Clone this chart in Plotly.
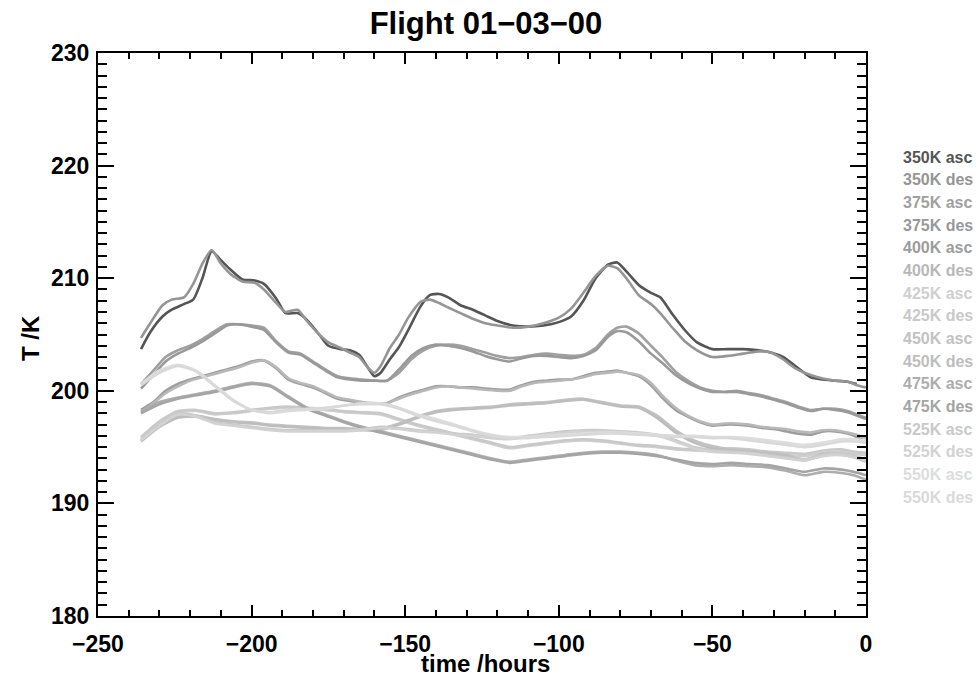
import plotly.graph_objects as go

# ---------------- data ----------------
t_350 = [-236, -233, -229, -226, -222, -219, -216, -213, -210, -207, -203, -199, -196, -192, -189,
         -185, -182, -178, -175, -171, -168, -165, -162, -160, -158, -155, -152, -149, -145, -142,
         -139, -136, -132, -128, -124, -120, -115, -110, -105, -100, -96, -92, -88, -84, -81,
         -78, -74, -70, -67, -63, -59, -55, -50, -45, -40, -35, -31, -27, -23, -18,
         -14, -10, -6, -3, 0]
T_350_asc = [203.7, 205.2, 206.6, 207.2, 207.7, 208.1, 210.0, 212.4, 211.6, 210.8, 209.9, 209.8, 209.5, 208.2, 206.9,
             206.9, 206.3, 205.0, 204.0, 203.7, 203.6, 203.2, 202.0, 201.3, 201.6, 202.8, 203.9, 205.4, 207.5, 208.5,
             208.6, 208.3, 207.6, 207.2, 206.7, 206.2, 205.8, 205.7, 205.8, 206.1, 206.6, 208.0, 210.0, 211.2, 211.4,
             210.6, 209.4, 208.7, 208.3, 206.8, 205.4, 204.3, 203.7, 203.7, 203.7, 203.6, 203.4, 203.0, 202.2, 201.2,
             201.0, 200.9, 200.8, 200.6, None]
T_350_des = [204.7, 206.0, 207.6, 208.1, 208.3, 209.5, 211.3, 212.5, 211.3, 210.4, 209.7, 209.6, 209.0, 207.8, 207.0,
             207.2, 206.2, 205.0, 204.3, 203.8, 203.4, 203.0, 202.0, 201.6, 202.2, 203.8, 205.0, 206.5, 207.9, 208.1,
             207.8, 207.4, 206.9, 206.4, 206.0, 205.8, 205.6, 205.7, 206.0, 206.5, 207.3, 208.7, 210.2, 211.1, 210.9,
             210.0, 208.5, 207.7, 206.9, 205.6, 204.4, 203.6, 203.0, 203.1, 203.3, 203.5, 203.4, 202.8, 202.0, 201.4,
             201.1, 200.9, 200.8, 200.5, 200.3]

t_mid = [-236, -232, -228, -224, -220, -216, -212, -208, -204, -200, -196, -192, -188, -184, -180,
         -176, -172, -168, -164, -160, -156, -152, -148, -144, -140, -136, -132, -128, -124, -120,
         -116, -112, -108, -104, -100, -96, -92, -88, -84, -81, -78, -74, -70, -66, -62,
         -58, -54, -50, -46, -42, -38, -34, -30, -26, -22, -18, -14, -10, -6, -3, 0]
T_375_asc = [200.6, 201.8, 203.0, 203.6, 204.0, 204.6, 205.3, 205.9, 205.9, 205.8, 205.6, 204.4, 203.5, 203.3, 202.6,
             201.9, 201.3, 201.1, 201.0, 200.9, 200.9, 201.6, 202.8, 203.6, 204.0, 204.1, 204.0, 203.7, 203.4, 203.1,
             202.9, 203.0, 203.2, 203.3, 203.2, 203.1, 203.2, 203.8, 205.0, 205.6, 205.7, 205.1, 204.0, 202.9, 201.7,
             200.9, 200.3, 200.0, 199.9, 200.0, 199.8, 199.6, 199.3, 199.0, 198.6, 198.3, 198.4, 198.4, 198.2, 197.9, 197.6]
T_375_des = [200.2, 201.4, 202.6, 203.3, 203.8, 204.4, 205.1, 205.8, 205.9, 205.7, 205.4, 204.3, 203.4, 203.2, 202.5,
             201.8, 201.2, 201.0, 200.9, 200.9, 200.9, 201.9, 203.1, 203.8, 204.1, 204.0, 203.8, 203.5, 203.1, 202.8,
             202.6, 202.9, 203.1, 203.1, 203.0, 202.9, 203.1, 203.6, 204.8, 205.3, 205.2, 204.4, 203.3, 202.4, 201.4,
             200.7, 200.2, 199.9, 199.9, 199.9, 199.7, 199.5, 199.2, 198.9, 198.5, 198.2, 198.4, 198.3, 198.1, 197.8, 197.5]
T_400_asc = [198.3, 199.0, 200.0, 200.6, 201.0, 201.3, 201.6, 201.9, 202.2, 202.6, 202.7, 202.0, 201.0, 200.6, 200.3,
             199.8, 199.3, 199.1, 198.9, 198.9, 198.9, 199.4, 199.8, 200.1, 200.4, 200.4, 200.3, 200.3, 200.2, 200.1,
             200.1, 200.5, 200.8, 200.9, 201.0, 201.0, 201.3, 201.6, 201.7, 201.8, 201.6, 201.3, 200.5, 199.3, 198.3,
             197.7, 197.2, 196.9, 197.0, 197.0, 196.9, 196.7, 196.6, 196.4, 196.2, 196.1, 196.4, 196.4, 196.2, 195.9, 195.5]
T_400_des = [198.1, 198.9, 199.8, 200.4, 200.9, 201.2, 201.5, 201.8, 202.1, 202.5, 202.7, 202.1, 201.1, 200.7, 200.4,
             199.9, 199.4, 199.2, 199.0, 198.9, 198.9, 199.3, 199.7, 200.0, 200.3, 200.4, 200.3, 200.2, 200.1, 200.0,
             200.0, 200.4, 200.7, 200.8, 200.9, 201.0, 201.2, 201.5, 201.6, 201.7, 201.6, 201.4, 200.7, 199.5, 198.5,
             197.8, 197.3, 197.0, 197.1, 197.1, 197.0, 196.8, 196.7, 196.6, 196.4, 196.3, 196.5, 196.5, 196.3, 196.1, 195.8]

t_low = [-236, -230, -224, -218, -212, -206, -200, -194, -188, -182, -176, -170, -164, -158, -152,
         -146, -140, -134, -128, -122, -116, -110, -104, -98, -92, -86, -80, -74, -68, -62,
         -56, -50, -44, -38, -32, -26, -20, -14, -8, -4, 0]
T_425_asc = [195.8, 197.2, 198.1, 198.2, 197.9, 198.0, 198.2, 198.4, 198.5, 198.4, 198.3, 198.1, 198.0, 197.9, 197.4,
             196.9, 196.5, 196.1, 195.7, 195.3, 194.9, 195.1, 195.3, 195.5, 195.6, 195.5, 195.3, 195.1, 195.0, 194.8,
             194.7, 194.6, 194.7, 194.6, 194.4, 194.3, 194.2, 194.5, 194.6, 194.4, 194.3]
T_425_des = [195.9, 197.3, 198.2, 198.3, 198.0, 198.1, 198.3, 198.5, 198.6, 198.5, 198.4, 198.2, 198.1, 198.0, 197.5,
             197.0, 196.6, 196.2, 195.8, 195.4, 195.0, 195.2, 195.4, 195.6, 195.7, 195.6, 195.4, 195.2, 195.1, 194.9,
             194.8, 194.8, 194.9, 194.8, 194.6, 194.5, 194.4, 194.7, 194.8, 194.6, 194.5]
T_450_asc = [195.6, 196.9, 197.7, 197.8, 197.5, 197.3, 197.2, 197.0, 196.9, 196.8, 196.7, 196.7, 196.6, 196.6, 197.1,
             197.7, 198.2, 198.4, 198.5, 198.6, 198.8, 198.9, 199.0, 199.2, 199.3, 199.0, 198.7, 198.6, 197.8, 196.5,
             195.6, 195.1, 194.8, 194.7, 194.5, 194.3, 193.9, 194.4, 194.4, 194.2, 193.8]
T_450_des = [195.5, 196.8, 197.6, 197.7, 197.4, 197.2, 197.1, 196.9, 196.8, 196.7, 196.6, 196.6, 196.5, 196.5, 197.0,
             197.6, 198.1, 198.3, 198.4, 198.5, 198.7, 198.8, 198.9, 199.1, 199.2, 198.9, 198.6, 198.5, 197.6, 196.3,
             195.4, 194.9, 194.7, 194.6, 194.4, 194.2, 193.8, 194.3, 194.3, 194.1, 193.7]
T_475_asc = [198.2, 199.0, 199.4, 199.7, 200.0, 200.4, 200.7, 200.5, 199.5, 198.5, 197.9, 197.3, 196.8, 196.4, 196.0,
             195.6, 195.2, 194.8, 194.4, 194.0, 193.7, 193.9, 194.1, 194.3, 194.5, 194.6, 194.6, 194.5, 194.3, 193.8,
             193.4, 193.3, 193.4, 193.3, 193.2, 192.9, 192.5, 192.8, 192.7, 192.5, 192.1]
T_475_des = [198.0, 198.8, 199.3, 199.6, 199.9, 200.3, 200.6, 200.4, 199.4, 198.4, 197.8, 197.2, 196.7, 196.3, 195.9,
             195.5, 195.1, 194.7, 194.3, 193.9, 193.6, 193.8, 194.0, 194.2, 194.4, 194.5, 194.5, 194.4, 194.2, 193.9,
             193.6, 193.5, 193.6, 193.5, 193.4, 193.1, 192.8, 193.1, 193.0, 192.8, 192.5]
T_525_asc = [195.7, 197.0, 198.0, 197.8, 197.2, 197.0, 196.8, 196.6, 196.5, 196.5, 196.5, 196.5, 196.6, 196.8, 196.7,
             196.5, 196.4, 196.2, 196.1, 195.9, 195.8, 196.0, 196.2, 196.4, 196.5, 196.5, 196.4, 196.3, 196.1, 195.6,
             195.0, 194.7, 194.6, 194.5, 194.3, 194.1, 193.9, 194.3, 194.4, 194.2, 193.9]
T_525_des = [195.6, 196.9, 197.9, 197.7, 197.1, 196.9, 196.7, 196.5, 196.4, 196.4, 196.4, 196.4, 196.5, 196.7, 196.6,
             196.4, 196.3, 196.1, 196.0, 195.8, 195.7, 195.9, 196.1, 196.3, 196.4, 196.4, 196.3, 196.2, 196.0, 195.5,
             194.9, 194.6, 194.5, 194.4, 194.2, 194.0, 193.8, 194.2, 194.3, 194.1, 193.8]
T_550_asc = [200.6, 201.8, 202.3, 201.8, 200.5, 199.2, 198.3, 198.0, 198.2, 198.3, 198.4, 198.7, 198.9, 198.9, 198.5,
             197.9, 197.5, 197.0, 196.5, 196.1, 195.9, 195.9, 196.0, 196.1, 196.2, 196.3, 196.3, 196.2, 196.1, 196.0,
             196.0, 195.9, 195.9, 195.8, 195.6, 195.4, 195.2, 195.4, 195.7, 195.7, 195.6]
T_550_des = [200.5, 201.6, 202.2, 201.7, 200.4, 199.1, 198.3, 198.1, 198.3, 198.4, 198.5, 198.7, 198.8, 198.8, 198.4,
             197.8, 197.3, 196.9, 196.4, 196.0, 195.8, 195.8, 195.9, 196.0, 196.1, 196.2, 196.2, 196.1, 196.0, 195.9,
             195.9, 195.8, 195.8, 195.6, 195.4, 195.2, 195.0, 195.2, 195.5, 195.5, 195.4]

series_names = ["350K asc", "350K des", "375K asc", "375K des", "400K asc", "400K des",
                "425K asc", "425K des", "450K asc", "450K des", "475K asc", "475K des",
                "525K asc", "525K des", "550K asc", "550K des"]
series_time = [t_350, t_350, t_mid, t_mid, t_mid, t_mid,
               t_low, t_low, t_low, t_low, t_low, t_low, t_low, t_low, t_low, t_low]
series_vals = [T_350_asc, T_350_des, T_375_asc, T_375_des, T_400_asc, T_400_des,
               T_425_asc, T_425_des, T_450_asc, T_450_des, T_475_asc, T_475_des,
               T_525_asc, T_525_des, T_550_asc, T_550_des]
series_colors = ["#555555", "#959595", "#a0a0a0", "#999999", "#9c9c9c", "#b8b8b8",
                 "#cfcfcf", "#c9c9c9", "#c2c2c2", "#bdbdbd", "#adadad", "#a5a5a5",
                 "#c9c9c9", "#d2d2d2", "#dddddd", "#d9d9d9"]

for tt, vv in zip(series_time, series_vals):
    assert len(tt) == len(vv), (len(tt), len(vv))

FONT = "Liberation Sans, Arial, sans-serif"

# plot-area geometry (pixels) used only to place text in paper coordinates
L, R, T, B = 98, 866, 53, 616
W, H = 976, 677

fig = go.Figure()
for name, tt, vv, col in zip(series_names, series_time, series_vals, series_colors):
    fig.add_trace(go.Scatter(x=tt, y=vv, mode="lines", name=name,
                             line=dict(color=col, width=2.6, shape="spline", smoothing=0.6),
                             showlegend=False))

# legend as coloured text labels on the right
for i, (name, col) in enumerate(zip(series_names, series_colors)):
    py = 157 + i * 22.67
    fig.add_annotation(text="<b>%s</b>" % name, xref="paper", yref="paper",
                       x=(901 - L) / (R - L), y=(B - py) / (B - T), xanchor="left", yanchor="middle",
                       showarrow=False, font=dict(family=FONT, size=16, color=col))

# axis titles
fig.add_annotation(text="<b>time /hours</b>", xref="paper", yref="paper",
                   x=(485 - L) / (R - L), y=(B - 663) / (B - T), xanchor="center", yanchor="middle",
                   showarrow=False, font=dict(family=FONT, size=24, color="black"))
fig.add_annotation(text="<b>T /K</b>", xref="paper", yref="paper", textangle=-90,
                   x=(30 - L) / (R - L), y=(B - 338) / (B - T), xanchor="center", yanchor="middle",
                   showarrow=False, font=dict(family=FONT, size=24, color="black"))

axis_common = dict(showline=True, linecolor="black", linewidth=2, mirror="ticks",
                   ticks="inside", tickcolor="black", tickwidth=2,
                   showgrid=False, zeroline=False, automargin=False,
                   tickfont=dict(family=FONT, size=23, color="black"))

fig.update_xaxes(range=[-250, 0], dtick=50, tick0=0, ticklen=11,
                 minor=dict(dtick=10, ticklen=6, tickwidth=2, tickcolor="black", ticks="inside"),
                 tickprefix="<b>", ticksuffix="</b>", ticklabelstandoff=6,
                 **axis_common)
fig.update_yaxes(range=[180, 230], dtick=10, tick0=0, ticklen=16,
                 minor=dict(dtick=1, ticklen=9, tickwidth=2, tickcolor="black", ticks="inside"),
                 tickprefix="<b>", ticksuffix="</b>", ticklabelstandoff=2,
                 **axis_common)

fig.update_layout(
    width=W, height=H,
    margin=dict(l=L, r=W - R, t=T, b=H - B),
    paper_bgcolor="white", plot_bgcolor="white",
    title=dict(text="<b>Flight 01\u221203\u221200</b>", x=486 / W, xanchor="center",
               y=1 - 23 / H, yanchor="middle",
               font=dict(family=FONT, size=31, color="black")),
)

fig.write_html("out.html")
